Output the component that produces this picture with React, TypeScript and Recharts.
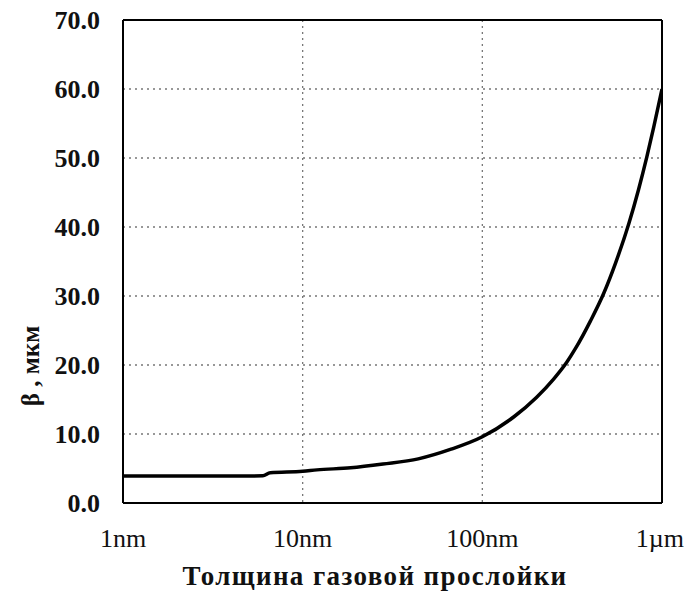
import { LineChart, Line, XAxis, YAxis, CartesianGrid, ReferenceLine } from 'recharts'

// gas layer thickness, nm (log axis)
const thickness = [1, 2, 4, 6, 6.6, 10, 12, 18.5, 28, 44, 67, 100, 150, 200, 250, 295, 330, 400, 474, 550, 654, 740, 824, 900, 1000]
// beta, um
const beta = [3.9, 3.9, 3.9, 3.95, 4.4, 4.6, 4.8, 5.1, 5.65, 6.4, 7.8, 9.6, 12.5, 15.3, 18.0, 20.4, 22.4, 26.4, 30.4, 34.7, 40.5, 45.4, 50.2, 54.5, 60]

const xTicks = [1, 10, 100, 1000]
const xTickLabels = ['1nm', '10nm', '100nm', '1µm']
const yTicks = [0, 10, 20, 30, 40, 50, 60, 70]

const data = thickness.map((t, i) => ({ t, beta: beta[i] }))

const serif = '"Liberation Serif", "Times New Roman", serif'

export default function App() {
  return (
    <div style={{ position: 'absolute', left: 0, top: 0, background: '#fff' }}>
      <LineChart width={684} height={592} data={data} margin={{ top: 20, right: 22, bottom: 0, left: 0 }}>
        <CartesianGrid stroke="#777" strokeDasharray="2 4" strokeWidth={1.3} />
        <XAxis
          dataKey="t"
          type="number"
          scale="log"
          domain={[1, 1000]}
          ticks={xTicks}
          allowDataOverflow
          tickFormatter={(v: number) => xTickLabels[xTicks.indexOf(v)] ?? ''}
          tickLine={false}
          tickMargin={20}
          height={89}
          axisLine={{ stroke: '#000', strokeWidth: 2 }}
          tick={{ fill: '#111', fontSize: 26, fontFamily: serif }}
          label={{
            content: () => (
              <text x={375} y={585} textAnchor="middle" fontFamily={serif} fontWeight="bold" fontSize={27} letterSpacing={1.4} fill="#111">
                Толщина газовой прослойки
              </text>
            ),
          }}
        />
        <YAxis
          type="number"
          domain={[0, 70]}
          ticks={yTicks}
          width={123}
          tickLine={false}
          tickMargin={17}
          tickFormatter={(v: number) => v.toFixed(1)}
          axisLine={{ stroke: '#000', strokeWidth: 2 }}
          tick={{ fill: '#111', fontSize: 26, fontFamily: serif, fontWeight: 'bold' }}
          label={{
            content: () => (
              <text x={30} y={366} transform="rotate(-90 30 366)" textAnchor="middle" dominantBaseline="central" fontFamily={serif} fontWeight="bold" fontSize={25} fill="#111">
                β , мкм
              </text>
            ),
          }}
        />
        <ReferenceLine y={70} stroke="#000" strokeWidth={2} />
        <ReferenceLine x={1000} stroke="#000" strokeWidth={2} />
        <Line type="monotone" dataKey="beta" stroke="#000" strokeWidth={3.5} dot={false} isAnimationActive={false} />
      </LineChart>
    </div>
  )
}
